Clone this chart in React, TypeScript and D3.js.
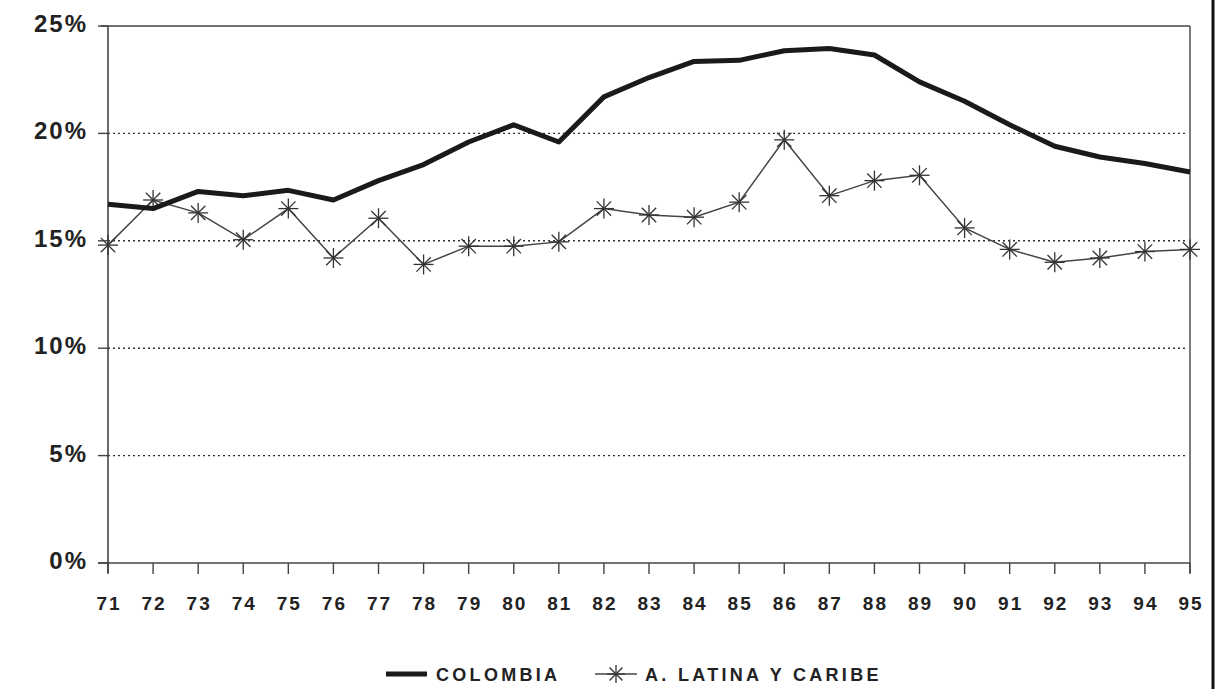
import React from "react";
import * as d3 from "d3";

const years = ["71","72","73","74","75","76","77","78","79","80","81","82","83","84","85","86","87","88","89","90","91","92","93","94","95"];
const colombia = [16.7,16.5,17.3,17.1,17.35,16.9,17.8,18.55,19.6,20.4,19.6,21.7,22.6,23.35,23.4,23.85,23.95,23.65,22.4,21.5,20.4,19.4,18.9,18.6,18.2];
const latina = [14.8,16.9,16.3,15.05,16.5,14.2,16.05,13.9,14.75,14.75,14.95,16.5,16.2,16.1,16.8,19.7,17.1,17.8,18.05,15.6,14.6,14.0,14.2,14.5,14.6];
const yTicks = [0,5,10,15,20,25];
const legendLabels = ["COLOMBIA","A. LATINA Y CARIBE"];

const W = 1219, H = 689;
const FONT = "'Liberation Sans', Arial, Helvetica, sans-serif";

function Asterisk({ x, y, r }: { x: number; y: number; r: number }) {
  const d = r * 0.72;
  return (
    <g stroke="#333" strokeWidth={1.3}>
      <line x1={x} y1={y - r} x2={x} y2={y + r} />
      <line x1={x - r} y1={y} x2={x + r} y2={y} />
      <line x1={x - d} y1={y - d} x2={x + d} y2={y + d} />
      <line x1={x - d} y1={y + d} x2={x + d} y2={y - d} />
    </g>
  );
}

export default function App() {
  const x = d3.scalePoint<string>().domain(years).range([108, 1190]);
  const y = d3.scaleLinear().domain([0, 25]).range([563, 26]);
  const line = d3.line<number>().x((_, i) => x(years[i])!).y((v) => y(v));
  const left = 108, right = 1190;

  return (
    <svg width={W} height={H} style={{ position: "absolute", left: 0, top: 0, background: "#fff" }} fontFamily={FONT}>
      <rect x={0} y={0} width={W} height={H} fill="#fff" />
      {/* gridlines */}
      {yTicks.filter((t) => t > 0 && t < 25).map((t) => (
        <line key={t} x1={left} x2={right - 2} y1={y(t)} y2={y(t)} stroke="#333" strokeWidth={1.4} strokeDasharray="2,3" />
      ))}
      {/* frame */}
      <line x1={101} x2={right} y1={y(25)} y2={y(25)} stroke="#444" strokeWidth={1.4} />
      <line x1={right} x2={right} y1={y(25)} y2={y(0) + 10} stroke="#444" strokeWidth={1.4} />
      <line x1={left} x2={left} y1={y(25)} y2={y(0) + 10} stroke="#444" strokeWidth={1.6} />
      <line x1={98} x2={right} y1={y(0)} y2={y(0)} stroke="#444" strokeWidth={1.6} />
      {/* y ticks and labels */}
      {yTicks.map((t) => (
        <g key={t}>
          <line x1={98} x2={left} y1={y(t)} y2={y(t)} stroke="#444" strokeWidth={1.4} />
          <text x={88} y={y(t) + 6} textAnchor="end" fontSize={24} fontWeight="bold" letterSpacing={2} fill="#222">{t + "%"}</text>
        </g>
      ))}
      {/* x ticks and labels */}
      {years.map((yr) => (
        <g key={yr}>
          <line x1={x(yr)!} x2={x(yr)!} y1={y(0)} y2={y(0) + 11} stroke="#444" strokeWidth={1.4} />
          <text x={x(yr)! + 1} y={y(0) + 47} textAnchor="middle" fontSize={19} fontWeight="bold" letterSpacing={2} fill="#222">{yr}</text>
        </g>
      ))}
      {/* LA line */}
      <path d={line(latina)!} fill="none" stroke="#444" strokeWidth={1.5} />
      {latina.map((v, i) => (
        <Asterisk key={i} x={x(years[i])!} y={y(v)} r={10} />
      ))}
      {/* Colombia line */}
      <path d={line(colombia)!} fill="none" stroke="#1a1a1a" strokeWidth={5} strokeLinejoin="round" />
      {/* legend */}
      <line x1={386} x2={427} y1={674} y2={674} stroke="#1a1a1a" strokeWidth={5} />
      <text x={436} y={681} fontSize={18} fontWeight="bold" letterSpacing={3.3} fill="#222">{legendLabels[0]}</text>
      <line x1={595} x2={637} y1={674} y2={674} stroke="#444" strokeWidth={1.5} />
      <Asterisk x={616} y={674} r={9} />
      <text x={645} y={681} fontSize={18} fontWeight="bold" letterSpacing={3.3} fill="#222">{legendLabels[1]}</text>
      {/* scan edge */}
      <line x1={1213} x2={1213} y1={0} y2={H} stroke="#111" strokeWidth={3} />
    </svg>
  );
}
